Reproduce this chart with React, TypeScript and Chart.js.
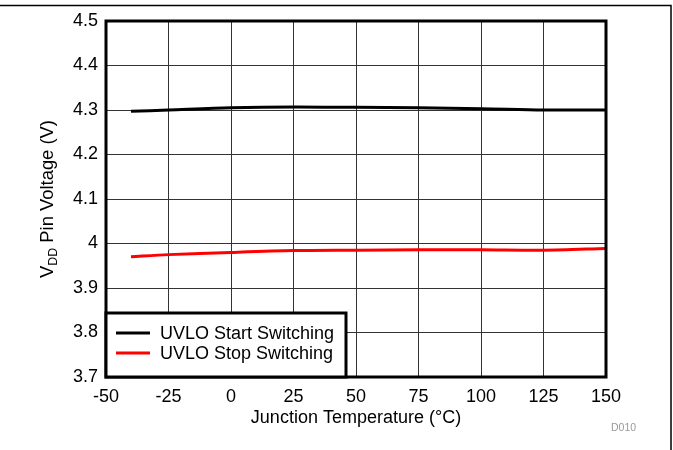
import React, { useEffect, useRef } from "react";
import { Chart, registerables } from "chart.js";

Chart.register(...registerables);

const temperatures = [-40, -25, 0, 25, 50, 75, 100, 125, 150];
const startVoltage = [4.297, 4.300, 4.305, 4.307, 4.306, 4.305, 4.303, 4.300, 4.300];
const stopVoltage = [3.970, 3.975, 3.980, 3.984, 3.985, 3.986, 3.986, 3.985, 3.989];
const seriesLabels = ["UVLO Start Switching", "UVLO Stop Switching"];
const seriesColors = ["#000000", "#ff0000"];
const xTickValues = [-50, -25, 0, 25, 50, 75, 100, 125, 150];
const yTickValues = [3.7, 3.8, 3.9, 4.0, 4.1, 4.2, 4.3, 4.4, 4.5];
const xTitle = "Junction Temperature (°C)";
const yTitleMain = "V";
const yTitleSub = "DD";
const yTitleRest = " Pin Voltage (V)";
const figureId = "D010";

const FONT = "'Liberation Sans', Arial, sans-serif";

const decorPlugin = {
  id: "decor",
  afterDatasetsDraw(chart: any) {
    const ctx = chart.ctx as CanvasRenderingContext2D;
    const a = chart.chartArea;
    ctx.save();
    // plot border
    ctx.strokeStyle = "#000";
    ctx.lineWidth = 3;
    ctx.strokeRect(a.left, a.top, a.right - a.left, a.bottom - a.top);

    // legend box
    const lx = a.left;
    const ly = a.bottom - 64;
    const lw = 240;
    const lh = 64;
    ctx.fillStyle = "#fff";
    ctx.fillRect(lx, ly, lw, lh);
    ctx.strokeRect(lx, ly, lw, lh);
    ctx.font = `18px ${FONT}`;
    ctx.textBaseline = "middle";
    ctx.textAlign = "left";
    seriesLabels.forEach((lab, i) => {
      const yy = ly + 20 + i * 20;
      ctx.strokeStyle = seriesColors[i];
      ctx.lineWidth = 3;
      ctx.beginPath();
      ctx.moveTo(lx + 10, yy);
      ctx.lineTo(lx + 44, yy);
      ctx.stroke();
      ctx.fillStyle = "#000";
      ctx.fillText(lab, lx + 54, yy + 1);
    });

    // y title with subscript
    ctx.save();
    ctx.translate(46, (a.top + a.bottom) / 2);
    ctx.rotate(-Math.PI / 2);
    ctx.textBaseline = "alphabetic";
    ctx.fillStyle = "#000";
    const big = `18.4px ${FONT}`;
    const small = `12.4px ${FONT}`;
    ctx.font = big;
    const w1 = ctx.measureText(yTitleMain).width;
    const w3 = ctx.measureText(yTitleRest).width;
    ctx.font = small;
    const w2 = ctx.measureText(yTitleSub).width;
    const total = w1 + w2 + w3;
    let x = -total / 2;
    ctx.font = big;
    ctx.fillText(yTitleMain, x, 7);
    x += w1;
    ctx.font = small;
    ctx.fillText(yTitleSub, x, 11);
    x += w2;
    ctx.font = big;
    ctx.fillText(yTitleRest, x, 7);
    ctx.restore();

    // figure id
    ctx.font = `10.5px ${FONT}`;
    ctx.fillStyle = "#999";
    ctx.textAlign = "left";
    ctx.textBaseline = "middle";
    ctx.fillText(figureId, 611, 428);

    // outer frame
    ctx.strokeStyle = "#000";
    ctx.lineWidth = 1.5;
    ctx.beginPath();
    ctx.moveTo(0, 5.5);
    ctx.lineTo(671, 5.5);
    ctx.lineTo(671, 450);
    ctx.stroke();
    ctx.restore();
  },
};

export default function App() {
  const ref = useRef<HTMLCanvasElement>(null);
  useEffect(() => {
    if (!ref.current) return;
    const chart = new Chart(ref.current, {
      type: "line",
      data: {
        datasets: [
          {
            label: seriesLabels[0],
            data: temperatures.map((t, i) => ({ x: t, y: startVoltage[i] })),
            borderColor: seriesColors[0],
            borderWidth: 3,
            pointRadius: 0,
            tension: 0.3,
            fill: false,
          },
          {
            label: seriesLabels[1],
            data: temperatures.map((t, i) => ({ x: t, y: stopVoltage[i] })),
            borderColor: seriesColors[1],
            borderWidth: 3,
            pointRadius: 0,
            tension: 0.3,
            fill: false,
          },
        ],
      },
      options: {
        responsive: false,
        animation: false,
        devicePixelRatio: 1,
        layout: { padding: { left: 0, right: 67, top: 21, bottom: 0 } },
        plugins: {
          legend: { display: false },
          tooltip: { enabled: false },
        },
        scales: {
          x: {
            type: "linear",
            min: -50,
            max: 150,
            afterBuildTicks: (s: any) => {
              s.ticks = xTickValues.map((v) => ({ value: v }));
            },
            afterFit: (s: any) => {
              s.height = 73;
            },
            ticks: {
              color: "#000",
              font: { family: FONT, size: 18 },
              padding: 9,
              maxRotation: 0,
              callback: (v: any) => String(v),
            },
            grid: { color: "#333", lineWidth: 1, drawTicks: false },
            border: { display: false },
            title: {
              display: true,
              text: xTitle,
              color: "#000",
              font: { family: FONT, size: 18 },
              padding: { top: 0, bottom: 21 },
            },
          },
          y: {
            type: "linear",
            min: 3.7,
            max: 4.5,
            afterBuildTicks: (s: any) => {
              s.ticks = yTickValues.map((v) => ({ value: v }));
            },
            afterFit: (s: any) => {
              s.width = 106;
            },
            ticks: {
              color: "#000",
              font: { family: FONT, size: 18 },
              padding: 8,
              callback: (v: any) => String(Number(Number(v).toFixed(1))),
            },
            grid: { color: "#333", lineWidth: 1, drawTicks: false },
            border: { display: false },
          },
        },
      },
      plugins: [decorPlugin],
    });
    return () => chart.destroy();
  }, []);
  return (
    <div style={{ position: "absolute", left: 0, top: 0, width: 673, height: 450, background: "#fff" }}>
      <canvas ref={ref} width={673} height={450} />
    </div>
  );
}
